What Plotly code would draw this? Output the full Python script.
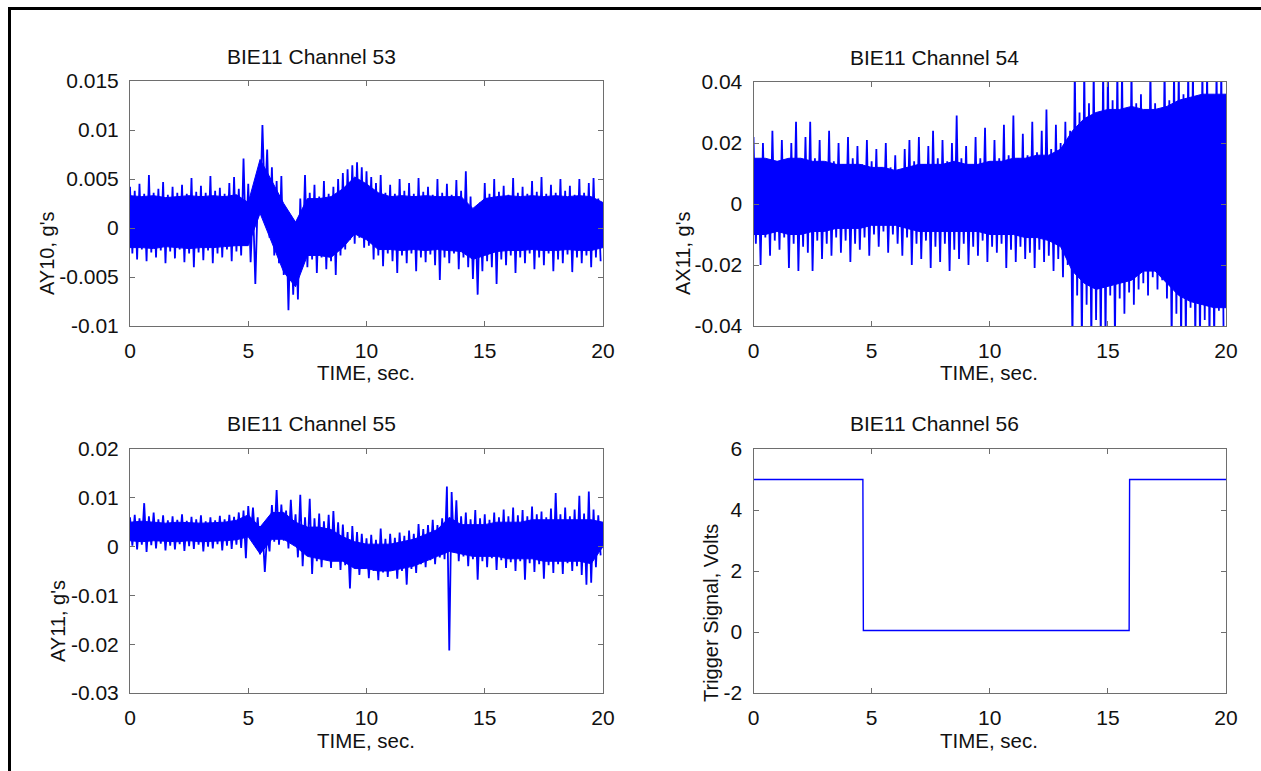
import plotly.graph_objects as go

# ---------------- data ----------------
# Noise channels: upper peaks (at t = 0.0, 0.2, ... 19.8 s) and lower troughs
# (at t = 0.1, 0.3, ... 19.9 s), plus the edges of the dense core of the trace
# every 0.5 s (t = 0, 0.5, ... 20).  Units: 1e-3 g.
ch53_hi = [4.2, 3.8, 4.5, 3.5, 5.4, 3.6, 4.0, 4.7, 3.4, 4.2,
           3.6, 4.4, 3.5, 5.1, 3.7, 4.3, 3.6, 5.3, 3.8, 4.1,
           3.5, 4.6, 5.2, 4.0, 7.1, 4.5, 2.4, 3.0, 10.5, 8.0,
           6.2, 4.8, 5.3, 1.8, 1.2, 0.5, 3.0, 5.4, 3.6, 4.4,
           3.2, 4.8, 3.5, 4.2, 5.0, 5.6, 6.0, 6.4, 6.7, 6.2,
           5.8, 5.2, 4.6, 5.4, 3.6, 4.4, 3.5, 5.0, 3.8, 4.6,
           3.5, 5.1, 3.7, 4.2, 3.4, 5.0, 3.6, 4.5, 3.4, 4.9,
           3.8, 5.8, 3.2, 1.8, 2.6, 4.6, 3.5, 5.0, 3.7, 4.3,
           3.4, 5.1, 3.6, 4.2, 3.5, 4.8, 3.7, 5.2, 3.5, 4.4,
           3.6, 5.0, 3.8, 4.3, 3.4, 5.0, 3.6, 4.6, 5.1, 3.0]
ch53_lo = [-2.6, -3.2, -2.2, -3.4, -2.5, -3.0, -2.3, -3.6, -2.4, -3.1,
           -2.2, -3.5, -2.6, -4.0, -2.5, -3.3, -2.3, -3.6, -2.6, -3.0,
           -2.2, -3.4, -2.4, -2.8, -1.8, -3.5, -5.7, 1.5, 2.4, -1.0,
           -2.8, -3.6, -4.8, -8.4, -6.8, -7.3, -3.2, -4.0, -3.2, -4.6,
           -3.0, -4.2, -3.4, -4.8, -2.8, -2.2, -1.2, -1.6, -1.0, -2.0,
           -1.8, -3.2, -2.8, -3.9, -2.6, -3.4, -4.6, -2.8, -3.6, -2.6,
           -4.4, -3.0, -3.5, -2.7, -3.8, -5.3, -3.0, -3.6, -2.6, -4.2,
           -3.0, -4.0, -5.2, -6.8, -4.4, -3.4, -4.0, -5.7, -3.2, -3.8,
           -2.8, -4.6, -3.0, -3.6, -2.6, -4.2, -3.0, -3.8, -2.6, -4.4,
           -3.2, -3.6, -2.7, -4.5, -3.0, -3.6, -2.8, -4.0, -3.0, -3.4]
ch53_core_hi = [3.3, 3.2, 3.3, 3.1, 3.2, 3.3, 3.2, 3.3, 3.2, 3.4,
                2.6, 7.0, 4.8, 2.5, 0.6, 3.0, 3.0, 3.2, 4.0, 5.2,
                4.5, 3.6, 3.2, 3.3, 3.2, 3.3, 3.2, 3.2, 3.2, 2.0,
                3.0, 3.2, 3.3, 3.2, 3.3, 3.2, 3.3, 3.2, 3.3, 3.2, 2.6]
ch53_core_lo = [-2.0, -2.0, -2.1, -1.9, -2.0, -2.1, -2.0, -2.0, -1.9, -1.8,
                -1.8, 1.5, -1.5, -4.5, -6.0, -2.8, -2.8, -3.0, -2.0, -0.6,
                -1.2, -2.2, -2.2, -2.3, -2.2, -2.3, -2.2, -2.3, -2.4, -3.2,
                -2.8, -2.4, -2.3, -2.3, -2.2, -2.3, -2.3, -2.2, -2.3, -2.3, -2.0]

ch54_hi = [22, 14, 20, 12, 24, 14, 21, 13, 20, 27,
           14, 22, 27, 15, 21, 13, 24, 14, 20, 13,
           22, 15, 19, 13, 21, 14, 18, 12, 20, 12,
           16, 11, 18, 21, 14, 22, 13, 19, 24, 15,
           21, 14, 20, 29, 15, 19, 12, 22, 15, 25,
           14, 21, 15, 26, 16, 29, 15, 23, 16, 27,
           17, 24, 31, 18, 26, 20, 27, 24, 45, 30,
           45, 33, 45, 28, 45, 45, 34, 45, 45, 31,
           45, 33, 36, 31, 45, 33, 30, 45, 34, 45,
           45, 36, 45, 45, 33, 45, 45, 35, 45, 45]
ch54_lo = [-13, -20, -11, -17, -12, -15, -11, -21, -13, -22,
           -14, -16, -22, -12, -18, -13, -17, -11, -16, -12,
           -19, -13, -15, -11, -17, -10, -14, -9, -16, -10,
           -13, -17, -11, -20, -13, -18, -12, -21, -14, -19,
           -13, -22, -15, -18, -13, -20, -14, -17, -12, -19,
           -14, -16, -13, -21, -15, -19, -14, -18, -16, -21,
           -15, -19, -17, -22, -18, -24, -20, -45, -30, -45,
           -33, -45, -38, -45, -45, -30, -45, -31, -36, -29,
           -33, -28, -26, -30, -24, -28, -25, -31, -45, -36,
           -45, -45, -34, -45, -45, -38, -45, -45, -35, -45]
ch54_core_hi = [15, 15, 14, 15, 15, 14, 14, 13, 13, 13,
                12, 12, 11, 12, 13, 13, 13, 14, 13, 13,
                14, 14, 15, 15, 16, 16, 18, 24, 28, 30,
                31, 31, 32, 31, 31, 32, 34, 35, 36, 36, 36]
ch54_core_lo = [-10, -10, -9, -10, -10, -9, -9, -8, -8, -8,
                -7, -7, -7, -8, -9, -9, -9, -9, -9, -9,
                -10, -10, -10, -11, -11, -12, -14, -22, -26, -28,
                -27, -26, -25, -22, -22, -26, -30, -32, -33, -34, -34]

ch55_hi = [6.0, 6.5, 5.8, 8.9, 6.2, 7.0, 5.6, 6.4, 5.4, 6.2,
           5.5, 6.6, 5.3, 6.1, 5.6, 6.4, 5.2, 6.0, 5.4, 6.3,
           5.6, 6.5, 6.1, 7.0, 7.4, 8.3, 8.0, 6.0, 4.0, 2.5,
           8.5, 11.6, 8.6, 7.4, 9.6, 6.6, 10.6, 6.0, 9.8, 5.8,
           6.8, 5.2, 6.5, 7.3, 5.0, 4.5, 3.0, 4.2, 3.0, 2.6,
           1.7, 2.4, 1.4, 3.7, 1.6, 2.6, 1.8, 2.9, 2.2, 3.3,
           2.6, 4.6, 3.6, 4.4, 5.5, 4.4, 5.8, 12.3, 11.2, 9.5,
           6.2, 7.0, 5.6, 7.5, 5.8, 6.6, 5.5, 7.0, 6.0, 7.6,
           6.2, 8.0, 6.4, 7.5, 6.2, 8.2, 6.6, 7.2, 6.0, 7.8,
           11.0, 6.6, 8.0, 6.2, 7.6, 10.4, 6.8, 11.3, 7.6, 6.4]
ch55_lo = [0.2, -0.6, 0.4, -1.1, 0.3, -0.4, 0.6, -0.8, 0.2, -0.6,
           0.5, -0.9, 0.1, -0.5, 0.4, -1.0, 0.0, -0.4, 0.5, -0.8,
           0.2, -0.5, 0.4, -0.3, -2.4, 1.6, 1.0, -1.6, -5.2, -1.0,
           1.0, 0.4, 1.2, -0.4, 0.8, -2.2, -4.0, -1.6, -5.6, -3.0,
           -4.2, -2.6, -4.4, -2.8, -4.8, -3.8, -8.6, -4.5, -5.8, -4.6,
           -6.5, -5.0, -6.9, -5.3, -6.2, -4.8, -6.6, -5.0, -7.8, -4.6,
           -5.4, -3.6, -4.2, -2.8, -3.6, -2.2, -2.6, -21.3, -1.0, -3.0,
           -2.0, -4.0, -2.6, -6.8, -3.0, -4.2, -2.4, -4.8, -2.8, -4.4,
           -3.2, -5.0, -3.0, -6.8, -3.4, -5.2, -3.6, -6.6, -3.8, -5.4,
           -3.6, -5.6, -3.4, -5.0, -4.0, -5.8, -7.8, -7.4, -4.2, -1.8]
ch55_core_hi = [5.0, 5.2, 5.0, 4.8, 5.0, 4.9, 4.8, 4.9, 5.0, 5.4,
                6.5, 4.0, 7.0, 7.0, 5.0, 4.0, 4.0, 3.5, 2.0, 1.0,
                0.5, 0.5, 0.5, 1.0, 1.5, 2.5, 3.5, 6.0, 4.5, 4.5,
                4.5, 5.0, 5.0, 5.0, 5.5, 5.5, 5.5, 5.5, 5.5, 5.5, 5.0]
ch55_core_lo = [1.2, 1.0, 1.2, 1.1, 1.0, 1.2, 1.0, 1.1, 1.2, 1.4,
                2.0, -1.5, 1.5, 1.5, 0.0, -2.0, -2.5, -3.0, -3.0, -4.5,
                -4.5, -5.0, -5.0, -4.5, -4.0, -3.0, -2.0, -1.0, -1.5, -2.0,
                -2.0, -2.0, -2.5, -2.5, -2.5, -3.0, -3.0, -3.0, -3.0, -3.5, 0.0]

# Channel 56 trigger signal (time in s, volts)
trig_t = [0.0, 4.63, 4.65, 15.90, 15.92, 20.0]
trig_v = [5.0, 5.0, 0.05, 0.05, 5.0, 5.0]

titles = ["BIE11 Channel 53", "BIE11 Channel 54", "BIE11 Channel 55", "BIE11 Channel 56"]
ylabels = ["AY10, g's", "AX11, g's", "AY11, g's", "Trigger Signal, Volts"]
xlabel = "TIME, sec."

x_ticks = [0, 5, 10, 15, 20]
x_ticktext = ["0", "5", "10", "15", "20"]
y53_ticks = [-0.01, -0.005, 0, 0.005, 0.01, 0.015]
y53_text = ["-0.01", "-0.005", "0", "0.005", "0.01", "0.015"]
y54_ticks = [-0.04, -0.02, 0, 0.02, 0.04]
y54_text = ["-0.04", "-0.02", "0", "0.02", "0.04"]
y55_ticks = [-0.03, -0.02, -0.01, 0, 0.01, 0.02]
y55_text = ["-0.03", "-0.02", "-0.01", "0", "0.01", "0.02"]
y56_ticks = [-2, 0, 2, 4, 6]
y56_text = ["-2", "0", "2", "4", "6"]

# ---------------- figure ----------------
W, H = 1261, 771
FONT = "Liberation Sans, Arial, Helvetica, sans-serif"
BLUE = "#0000ff"
AXC = "#6e6e6e"
TXT = "#111111"


def zigzag(hi, lo):
    xs, ys = [], []
    for i in range(len(hi)):
        xs += [0.2 * i, 0.2 * i + 0.1]
        ys += [hi[i] * 1e-3, lo[i] * 1e-3]
    return xs, ys


def core_polygon(chi, clo):
    ts = [0.5 * i for i in range(len(chi))]
    xs = ts + ts[::-1]
    ys = [v * 1e-3 for v in chi] + [v * 1e-3 for v in clo[::-1]]
    return xs, ys


def px(x):
    return x / W


def py(y):
    return 1 - y / H


fig = go.Figure()

channels = [(ch53_hi, ch53_lo, ch53_core_hi, ch53_core_lo),
            (ch54_hi, ch54_lo, ch54_core_hi, ch54_core_lo),
            (ch55_hi, ch55_lo, ch55_core_hi, ch55_core_lo)]
for k, (hi, lo, chi, clo) in enumerate(channels, start=1):
    xa = "x" if k == 1 else f"x{k}"
    ya = "y" if k == 1 else f"y{k}"
    cx, cy = core_polygon(chi, clo)
    fig.add_trace(go.Scatter(x=cx, y=cy, mode="lines", fill="toself", fillcolor=BLUE,
                             line=dict(color=BLUE, width=1), xaxis=xa, yaxis=ya,
                             showlegend=False, hoverinfo="skip"))
    zx, zy = zigzag(hi, lo)
    fig.add_trace(go.Scatter(x=zx, y=zy, mode="lines", line=dict(color=BLUE, width=1.8),
                             xaxis=xa, yaxis=ya, showlegend=False, hoverinfo="skip"))
fig.add_trace(go.Scatter(x=trig_t, y=trig_v, mode="lines", line=dict(color=BLUE, width=1.4),
                         xaxis="x4", yaxis="y4", showlegend=False, hoverinfo="skip"))

# panel pixel boxes: (left, right, top, bottom)
boxes = [(130, 603, 81, 326), (753.5, 1226, 82, 326), (130, 603, 449, 693), (753.5, 1226, 449, 693)]
yspecs = [([-0.01, 0.015], y53_ticks, y53_text), ([-0.04, 0.04], y54_ticks, y54_text),
          ([-0.03, 0.02], y55_ticks, y55_text), ([-2, 6], y56_ticks, y56_text)]

axis_common = dict(showgrid=False, zeroline=False, showline=True, linecolor=AXC, linewidth=1,
                   mirror="ticks", ticks="inside", ticklen=5, tickcolor=AXC, tickwidth=1,
                   automargin=False, tickfont=dict(family=FONT, size=21, color=TXT))

layout = dict(template="none", width=W, height=H, margin=dict(l=0, r=0, t=0, b=0, pad=0),
              autosize=False, paper_bgcolor="white", plot_bgcolor="white", showlegend=False)
for k, ((l, r, t, b), (yr, yt, ytt)) in enumerate(zip(boxes, yspecs), start=1):
    sfx = "" if k == 1 else str(k)
    layout[f"xaxis{sfx}"] = dict(axis_common, domain=[px(l), px(r)], range=[0, 20],
                                 tickvals=x_ticks, ticktext=x_ticktext,
                                 anchor=f"y{sfx}", ticklabelstandoff=6)
    layout[f"yaxis{sfx}"] = dict(axis_common, domain=[py(b), py(t)], range=yr,
                                 tickvals=yt, ticktext=ytt,
                                 anchor=f"x{sfx}", ticklabelstandoff=6)
fig.update_layout(**layout)

ann = []
title_pos = [(311, 57), (934, 58), (311, 423), (934, 423)]
for (x, y), txt in zip(title_pos, titles):
    ann.append(dict(x=px(x), y=py(y), xref="paper", yref="paper", text=txt, showarrow=False,
                    xanchor="center", yanchor="middle", font=dict(family=FONT, size=21, color=TXT)))
ylab_pos = [(47, 253), (683, 253), (58, 621), (711, 613)]
for (x, y), txt in zip(ylab_pos, ylabels):
    ann.append(dict(x=px(x), y=py(y), xref="paper", yref="paper", text=txt, showarrow=False,
                    textangle=-90, xanchor="center", yanchor="middle",
                    font=dict(family=FONT, size=20, color=TXT)))
xlab_pos = [(366, 372), (989, 372), (366, 740), (989, 740)]
for (x, y) in xlab_pos:
    ann.append(dict(x=px(x), y=py(y), xref="paper", yref="paper", text=xlabel, showarrow=False,
                    xanchor="center", yanchor="middle", font=dict(family=FONT, size=20.5, color=TXT)))
fig.update_layout(annotations=ann)

# black frame along the top and left edges
fig.add_shape(type="line", xref="paper", yref="paper", x0=px(8), x1=1, y0=py(8.5), y1=py(8.5),
              line=dict(color="black", width=3))
fig.add_shape(type="line", xref="paper", yref="paper", x0=px(9.5), x1=px(9.5), y0=py(7), y1=0,
              line=dict(color="black", width=3))

page_css = ("document.documentElement.style.margin='0';document.documentElement.style.padding='0';"
            "document.documentElement.style.overflow='hidden';document.body.style.margin='0';"
            "document.body.style.padding='0';document.body.style.overflow='hidden';")
fig.write_html("out.html", post_script=page_css, config={"displayModeBar": False})
